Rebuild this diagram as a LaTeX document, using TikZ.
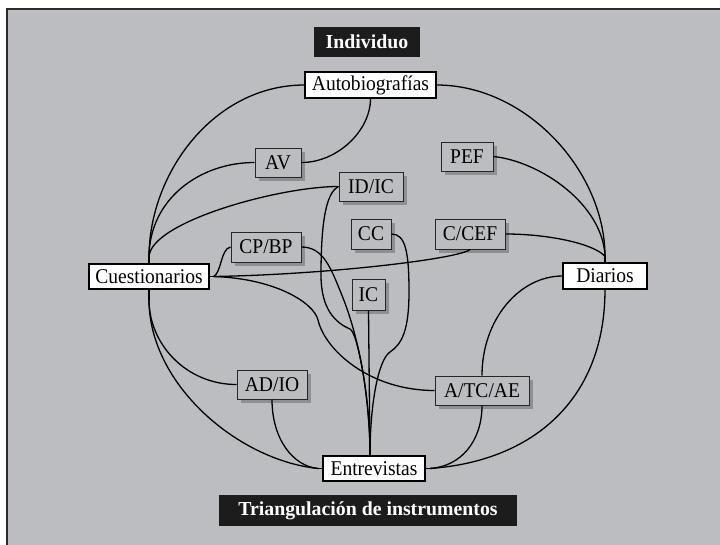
\documentclass[tikz,border=0pt]{standalone}
\usepackage{fontspec}
\setmainfont{Liberation Serif}
\newfontfamily\condfont{Liberation Serif}[FakeStretch=0.93]
\usetikzlibrary{shadows}
\definecolor{bg}{HTML}{BCBDC1}
\definecolor{shd}{HTML}{8E8F93}
\definecolor{framec}{HTML}{2B2B2B}
\definecolor{kfill}{HTML}{1C1C1C}
\begin{document}
\begin{tikzpicture}[x=1pt,y=-1pt,
  conn/.style={line width=1.3pt, black},
  txt/.style={font=\condfont\fontsize{21}{23}\selectfont},
  wbox/.style={txt, draw=black, fill=white, line width=1.2pt, inner sep=0pt},
  gbox/.style={txt, draw=black!85, fill=bg, line width=1pt, inner sep=0pt,
    general shadow={fill=shd, shadow xshift=4pt, shadow yshift=-4pt}},
  kbox/.style={font=\fontsize{19.8}{22}\selectfont\bfseries, fill=kfill, text=white, inner sep=0pt}]
\useasboundingbox (0,0) rectangle (720,544);
\clip (0,0) rectangle (720,544);
\fill[white] (0,0) rectangle (720,544);
\fill[bg] (7,9) rectangle (730,560);
\draw[framec, line width=2pt] (7,9) rectangle (730,560);

% nodes
\node[kbox, minimum width=106pt, minimum height=30pt] (indiv) at (367,42) {Individuo};
\node[wbox, minimum width=131pt, minimum height=26pt] (auto) at (370.5,85) {Autobiografías};
\node[gbox, minimum width=46pt, minimum height=29pt] (av) at (278,162.5) {AV};
\node[gbox, minimum width=52pt, minimum height=29pt] (pef) at (467,156.5) {PEF};
\node[gbox, minimum width=64pt, minimum height=29pt] (idic) at (371,186.5) {ID/IC};
\node[gbox, minimum width=40pt, minimum height=30pt] (cc) at (371,234) {CC};
\node[gbox, minimum width=70pt, minimum height=30pt] (ccef) at (470,234) {C/CEF};
\node[gbox, minimum width=70pt, minimum height=30pt] (cpbp) at (266,247) {CP/BP};
\node[wbox, minimum width=120pt, minimum height=25pt] (cues) at (149,276.5) {Cuestionarios};
\node[wbox, minimum width=84pt, minimum height=26pt] (diar) at (605,276) {Diarios};
\node[gbox, minimum width=33pt, minimum height=31pt] (ic) at (368.5,294.5) {IC};
\node[gbox, minimum width=70pt, minimum height=29pt] (adio) at (272,384.5) {AD/IO};
\node[gbox, minimum width=94pt, minimum height=29pt] (atc) at (482,390.5) {A/TC/AE};
\node[wbox, minimum width=102pt, minimum height=25pt] (ents) at (374,468.5) {Entrevistas};
\node[kbox, minimum width=298pt, minimum height=31pt] (tri) at (368,510.5) {Triangulación de instrumentos};

% junction points
\coordinate (cT) at ([yshift=6pt]cues.north);
\coordinate (cB) at ([yshift=-10pt]cues.south);
\coordinate (cR) at ([xshift=4pt]cues.east);
\coordinate (dT) at ([yshift=6pt]diar.north);
\coordinate (eT) at ([xshift=-4pt]ents.north);
\coordinate (eL) at ([xshift=-4pt]ents.west);
\coordinate (eR) at ([xshift=4pt]ents.east);

% stubs
\draw[conn] (cues.north) -- (cT);
\draw[conn] (cues.south) -- (cB);
\draw[conn] (cues.east) -- (cR);
\draw[conn] (diar.north) -- (dT);
\draw[conn] (ents.west) -- (eL);
\draw[conn] (ents.east) -- (eR);

% connectors
\draw[conn] (auto.west) .. controls +(-90,0) and +(0,-85) .. (cT);
\draw[conn] (auto.east) .. controls +(90,0) and +(0,-85) .. (dT);
\draw[conn] (auto.south) .. controls +(0,32) and +(36,0) .. (av.east);
\draw[conn] (av.west) .. controls +(-55,0) and +(0,-58) .. (cT);
\draw[conn] (idic.west) .. controls +(-60,0) and +(0,-35) .. (cT);
\draw[conn] (idic.west) .. controls +(-12,6) and +(0,-55) .. (321,275)
   .. controls +(0,35) and +(-14,-6) .. (350,329)
   .. controls +(8,4) and +(0,-55) .. (eT);
\draw[conn] (cpbp.east) .. controls +(22,0) and +(-12,-30) .. (343,298)
   .. controls +(12,30) and +(0,-70) .. (eT);
\draw[conn] (cc.east) .. controls +(14,0) and +(0,-40) .. (409,292)
   .. controls +(0,38) and +(12,-8) .. (390,352)
   .. controls +(-12,8) and +(0,-50) .. (eT);
\draw[conn] (ic.south) -- (eT);
\draw[conn] (cpbp.west) .. controls +(-10,2) and +(8,-4) .. (cR);
\draw[conn] (cR) .. controls +(117,-2) and +(-10,9) .. (ccef.south);
\draw[conn] (cR) .. controls +(62,2) and +(-4,-17) .. (318,320)
   .. controls +(7,30) and +(-65,0) .. (atc.west);
\draw[conn] (cB) .. controls +(0,45) and +(-50,0) .. (adio.west);
\draw[conn] (cB) .. controls +(0,85) and +(-80,-8) .. (eL);
\draw[conn] (adio.south) .. controls +(0,40) and +(-25,-2) .. (eL);
\draw[conn] (eR) .. controls +(32,-2) and +(0,35) .. (atc.south);
\draw[conn] (eR) .. controls +(102,-7) and +(0,111) .. (diar.south);
\draw[conn] (atc.north) .. controls +(0,-56) and +(-43,0) .. (diar.west);
\draw[conn] (pef.east) .. controls +(47,5) and +(-2,-52) .. (dT);
\draw[conn] (ccef.east) .. controls +(45,0) and +(-10,-12) .. (dT);
\end{tikzpicture}
\end{document}
